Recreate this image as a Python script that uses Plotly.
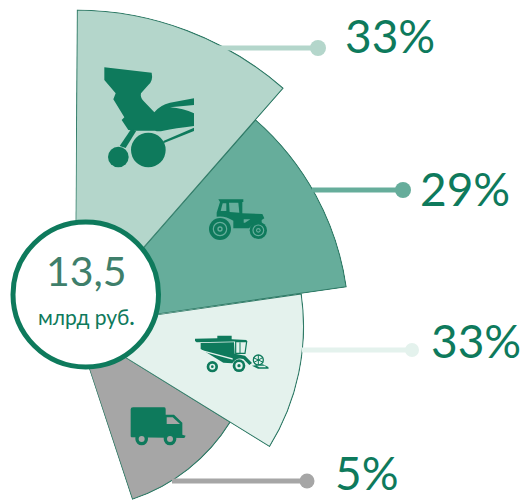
import math
import re
import plotly.graph_objects as go

# ---- data ----
categories = ["Посевные комплексы", "Тракторы", "Комбайны", "Грузовики"]
shares = [33, 29, 33, 5]
share_labels = ["33%", "29%", "33%", "5%"]
radii = [316, 274, 231, 182.5]
theta_mid = [20.8, 61.5, 101.75, 141.7]
theta_width = [40.8, 40.6, 39.9, 40.0]
wedge_colors = ["#b4d6cb", "#66ad9b", "#e4f2ed", "#a6a6a6"]
center_value = "13,5"
center_unit = "млрд руб<b>.</b>"

GREEN = "#0e7a5c"
EDGE = "#2f7a66"
W, H = 521, 500
CX, CY = 75, 326

# leader lines (image-pixel axis)
leader_y = [48, 190, 350, 481]
leader_x0 = [217, 312, 302, 172]
leader_x1 = [318, 403, 412, 307]
label_x = [345, 420, 431, 335]
label_y = [41, 194, 346, 478]
dot_size = [16, 16, 14, 15]

fig = go.Figure()
polars = {}
# one polar subplot per wedge, drawn from the smallest to the largest
for n, i in enumerate([3, 2, 1, 0]):
    name = "polar" if n == 0 else f"polar{n + 1}"
    hi = 90 - (theta_mid[i] - theta_width[i] / 2) + 0.1
    lo = 90 - (theta_mid[i] + theta_width[i] / 2) - 0.1
    R = radii[i] + 0.7
    ca, cb, sa, sb = [f(math.radians(a)) for f in (math.cos, math.sin) for a in (lo, hi)]
    x1, y0, y1 = max(0, ca, cb), min(0, sa, sb), max(0, sa, sb)
    polars[name] = dict(
        domain=dict(x=[CX / W, (CX + R * x1) / W],
                    y=[max(0, (H - CY + R * y0) / H), min(1, (H - CY + R * y1) / H)]),
        sector=[lo, hi], bgcolor="rgba(0,0,0,0)",
        radialaxis=dict(range=[0, R], visible=False),
        angularaxis=dict(direction="clockwise", rotation=90, visible=False),
    )
    fig.add_trace(go.Barpolar(
        r=[radii[i]], theta=[theta_mid[i]], width=[theta_width[i]], text=[categories[i]],
        marker=dict(color=wedge_colors[i], line=dict(color=EDGE, width=1.2)),
        hoverinfo="text", subplot=name, showlegend=False,
    ))

fig.add_trace(go.Scatter(
    x=leader_x1, y=leader_y, mode="markers",
    marker=dict(size=dot_size, color=wedge_colors, opacity=1, line=dict(width=0)),
    hoverinfo="skip", showlegend=False, xaxis="x", yaxis="y",
))
fig.add_trace(go.Scatter(
    x=label_x, y=label_y, mode="text", text=share_labels, textposition="middle right",
    textfont=dict(family="Lato", size=46, color=GREEN),
    hoverinfo="skip", showlegend=False, xaxis="x", yaxis="y", cliponaxis=False,
))

shapes = []
for y, x0, x1, c in zip(leader_y, leader_x0, leader_x1, wedge_colors):
    shapes.append(dict(type="line", xref="x", yref="y", x0=x0, x1=x1, y0=y, y1=y,
                       line=dict(color=c, width=5), layer="above"))


def tr(ox, oy, d):
    """zoomed-crop coordinates -> image pixels"""
    toks = re.findall(r"[A-Za-z]|-?[\d.]+", d)
    out, isx = [], True
    for t in toks:
        if t.isalpha():
            out.append(t); isx = True
        else:
            v = float(t) / 3
            out.append(f"{(ox if isx else oy) + v:.2f}")
            isx = not isx
    return " ".join(out)


def path(ox, oy, d, fill=GREEN, line=None, lw=0):
    shapes.append(dict(type="path", xref="x", yref="y", path=tr(ox, oy, d), fillcolor=fill,
                       line=dict(color=line or fill, width=lw), layer="above"))


def circ(ox, oy, x, y, r, fill=GREEN, line=None, lw=0):
    cx, cy, rr = ox + x / 3, oy + y / 3, r / 3
    shapes.append(dict(type="circle", xref="x", yref="y", x0=cx - rr, x1=cx + rr, y0=cy - rr, y1=cy + rr,
                       fillcolor=fill, line=dict(color=line or fill, width=lw), layer="above"))


# seeder icon
o = (95, 60)
path(*o, "M28 22 L170 38 Q175 62 160 75 L138 100 Q135 112 145 122 L178 157 Q195 135 225 128 L297 115 L297 135 "
         "L225 142 Q265 145 297 160 L297 198 Q240 205 205 212 Q190 216 180 212 L125 212 L100 210 L80 180 L88 172 "
         "L55 118 L62 100 L28 60 Z")
path(*o, "M108 208 L124 212 L92 264 L74 258 Z")
path(*o, "M205 243 L297 203 L297 213 L205 250 Z")
circ(*o, 70, 291, 31)
circ(*o, 160, 270, 52)

# tractor icon
o = (205, 190)
bg = wedge_colors[1]
path(*o, "M40 28 L115 28 L115 36 L112 36 L112 70 L172 72 L178 85 L170 90 L170 100 Q148 95 132 115 L85 115 L85 92 "
         "Q60 76 35 80 L35 68 L45 36 Z")
path(*o, "M53 40 L64 40 L64 63 L47 63 Z", fill=bg)
path(*o, "M72 38 L100 38 L103 68 L74 66 Z", fill=bg)
path(*o, "M116 88 L136 88 L120 98 L116 98 Z", fill=bg)
for x, y, r, r2, r3 in [(45, 117, 33, 20, 8), (160, 121, 26, 16, 7)]:
    circ(*o, x, y, r)
    circ(*o, x, y, r2, fill="rgba(0,0,0,0)", line=bg, lw=1.2)
    circ(*o, x, y, r3, fill=bg)
    circ(*o, x, y, r3 * 0.5)

# combine icon
o = (190, 325)
bg = wedge_colors[2]
path(*o, "M82 32 L125 32 L125 43 L170 45 L170 49 L20 52 L15 48 L15 41 L82 40 Z")
path(*o, "M32 54 L132 52 L134 86 L165 92 L186 114 L178 120 L160 102 Q140 95 127 115 L100 113 L32 72 Z")
path(*o, "M32 74 L128 100 L128 104 L32 78 Z", fill=bg)
path(*o, "M137 50 L170 50 L165 85 L137 85 Z", fill=bg, line=GREEN, lw=1.2)
path(*o, "M150 52 L150 84", fill=bg, line=GREEN, lw=1)
for x, y, r, r2, r3 in [(67, 125, 17, 9, 4), (147, 122, 19, 11, 5)]:
    circ(*o, x, y, r)
    circ(*o, x, y, r2, fill=bg)
    circ(*o, x, y, r3)
circ(*o, 205, 105, 15, fill=bg, line=GREEN, lw=1.3)
path(*o, "M190 98 L220 112 M205 90 L205 120 M192 112 L218 98", fill="rgba(0,0,0,0)", line=GREEN, lw=1)
path(*o, "M186 122 L218 118 L235 126 L236 131 L204 131 Z")
path(*o, "M200 122 L225 122 L228 127 L208 127 Z", fill=bg)

# truck icon
o = (125, 400)
bg = wedge_colors[3]
path(*o, "M17 28 Q17 22 24 22 L118 22 Q122 22 122 28 L122 44 L147 44 L172 68 L172 104 L182 107 L178 114 L20 112 Q17 112 17 108 Z")
path(*o, "M125 52 L143 52 L165 72 L125 72 Z", fill=bg)
for x in [50, 135]:
    circ(*o, x, 117, 19)
    circ(*o, x, 117, 9, fill=bg)

# centre circle
shapes.append(dict(type="circle", xref="x", yref="y", x0=13, x1=158.5, y0=222, y1=367,
                   fillcolor="white", line=dict(color=GREEN, width=5), layer="above"))

annotations = [
    dict(x=86, y=270, xref="x", yref="y", text=center_value, showarrow=False,
         font=dict(family="Lato", size=41, color="#3f7f6b")),
    dict(x=85.5, y=316, xref="x", yref="y", text=center_unit, showarrow=False,
         font=dict(family="Lato", size=21, color=GREEN)),
]

fig.update_layout(
    width=W, height=H, margin=dict(l=0, r=0, t=0, b=0),
    paper_bgcolor="white", plot_bgcolor="white", showlegend=False, autosize=False,
    xaxis=dict(range=[0, W], visible=False, domain=[0, 1], fixedrange=True),
    yaxis=dict(range=[H, 0], visible=False, domain=[0, 1], fixedrange=True),
    shapes=shapes, annotations=annotations,
    **polars,
)
fig.write_html("out.html", config={"displayModeBar": False},
               post_script="document.body.style.margin='0';")
